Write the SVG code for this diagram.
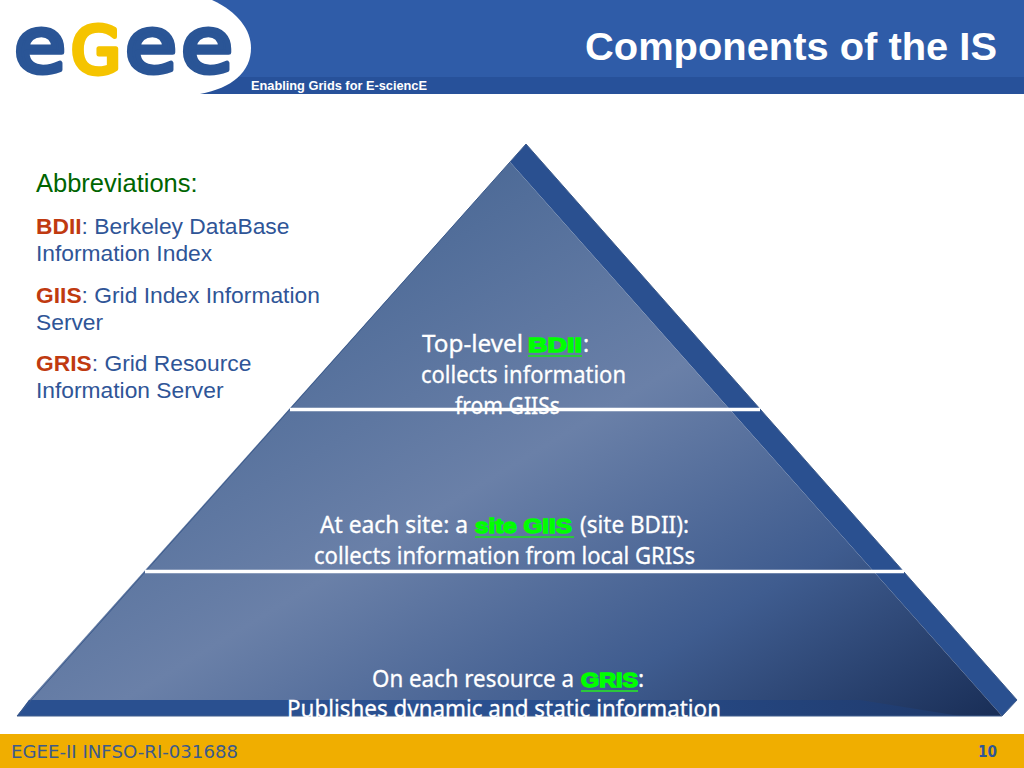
<svg xmlns="http://www.w3.org/2000/svg" width="1024" height="768" viewBox="0 0 1024 768">
<defs>
<linearGradient id="face" gradientUnits="userSpaceOnUse" x1="390" y1="150" x2="800" y2="830">
<stop offset="0" stop-color="#466593"/><stop offset="0.42" stop-color="#6a80a8"/><stop offset="0.72" stop-color="#3f5c8f"/><stop offset="1" stop-color="#1a2f58"/>
</linearGradient>
<linearGradient id="strip" gradientUnits="userSpaceOnUse" x1="520" y1="700" x2="960" y2="700">
<stop offset="0" stop-color="#2a5090"/><stop offset="1" stop-color="#1f3a6c"/>
</linearGradient>
</defs>
<style>
.a{font-family:"Liberation Sans",Arial,sans-serif}
.abbr{font-size:22.8px;fill:#2f5597}
.red{font-weight:bold;fill:#c03a10}
.p{font-family:"Noto Sans",Lato,sans-serif;font-size:23px;fill:#fff;stroke:#fff;stroke-width:.3px}
.hl{font-family:"Liberation Sans",Arial,sans-serif;font-weight:bold;fill:#00ff00;stroke:#00ff00;stroke-width:1.4px}
.ul{stroke:#2cc83c;stroke-width:2}
.logo{font-family:"DejaVu Sans",sans-serif;font-size:77px;fill:#2a5596;stroke:#2a5596;stroke-width:5px;stroke-linejoin:round}
</style>
<rect width="1024" height="768" fill="#fff"/>
<g id="header">
<rect width="1024" height="94" fill="#2f5ca8"/>
<rect y="77" width="1024" height="17" fill="#27519a"/>
<path d="M0 0H212C238 12 251 30 251 48C251 72 232 88 200 94H0Z" fill="#fff"/>
<text x="251" y="90" class="a" font-size="12" font-weight="bold" fill="#fff" textLength="176" lengthAdjust="spacingAndGlyphs">Enabling Grids for E-sciencE</text>
<text x="997" y="60" class="a" font-size="36" font-weight="bold" fill="#fff" text-anchor="end" textLength="412" lengthAdjust="spacingAndGlyphs" style="font-size:38px">Components of the IS</text>
</g>
<g id="logo">
<text class="logo" x="14" y="72" textLength="52" lengthAdjust="spacingAndGlyphs">e</text>
<text class="logo" x="71" y="72.500" style="font-size:64px;fill:#f5c400;stroke:#f5c400" textLength="50" lengthAdjust="spacingAndGlyphs">G</text>
<text class="logo" x="125" y="72" textLength="52" lengthAdjust="spacingAndGlyphs">e</text>
<text class="logo" x="181" y="72" textLength="52" lengthAdjust="spacingAndGlyphs">e</text>
</g>
<g id="pyramid">
<path d="M526 144L1017 700L1002 716L510 162Z" fill="#2a5090"/>
<path d="M510 162L29 700L17 716H1002Z" fill="url(#face)"/>
<path d="M17 716L29 700H860L960 716Z" fill="url(#strip)"/>
<path d="M526 144L17 716H1002L1017 700Z" fill="none" stroke="#3e5c8c" stroke-width="1"/>
</g>
<g id="connectors">
<line x1="290" y1="409.500" x2="760" y2="409.500" stroke="#fff" stroke-width="3.500"/>
<line x1="145" y1="571.500" x2="904" y2="571.500" stroke="#fff" stroke-width="3.500"/>
</g>
<g id="abbreviations">
<text x="36" y="192" fill="#006400" class="a" style="font-size:25.500px">Abbreviations:</text>
<text x="36" y="234" class="a abbr"><tspan class="red">BDII</tspan>: Berkeley DataBase</text>
<text x="36" y="261" class="a abbr">Information Index</text>
<text x="36" y="303" class="a abbr"><tspan class="red">GIIS</tspan>: Grid Index Information</text>
<text x="36" y="330" class="a abbr">Server</text>
<text x="36" y="371" class="a abbr"><tspan class="red">GRIS</tspan>: Grid Resource</text>
<text x="36" y="398" class="a abbr">Information Server</text>
</g>
<g id="top-level">
<text class="p" x="422" y="352" textLength="101" lengthAdjust="spacingAndGlyphs">Top-level</text>
<text class="hl" x="528" y="352" font-size="20" textLength="54" lengthAdjust="spacingAndGlyphs">BDII</text>
<line class="ul" x1="528" y1="356" x2="582" y2="356"/>
<text class="p" x="583" y="352">:</text>
<text class="p" x="421" y="383" textLength="205" lengthAdjust="spacingAndGlyphs">collects information</text>
<text class="p" x="455" y="414" textLength="105" lengthAdjust="spacingAndGlyphs">from GIISs</text>
</g>
<g id="site">
<text class="p" x="320" y="533" textLength="148" lengthAdjust="spacingAndGlyphs">At each site: a</text>
<text class="hl" x="475" y="533" font-size="20" textLength="97" lengthAdjust="spacingAndGlyphs">site GIIS</text>
<line class="ul" x1="475" y1="537" x2="574" y2="537"/>
<text class="p" x="580" y="533" textLength="109" lengthAdjust="spacingAndGlyphs">(site BDII):</text>
<text class="p" x="314" y="564" textLength="381" lengthAdjust="spacingAndGlyphs">collects information from local GRISs</text>
</g>
<g id="resource">
<text class="p" x="372" y="687" textLength="202" lengthAdjust="spacingAndGlyphs">On each resource a</text>
<text class="hl" x="581" y="687" font-size="20" textLength="57" lengthAdjust="spacingAndGlyphs">GRIS</text>
<line class="ul" x1="581" y1="691" x2="638" y2="691"/>
<text class="p" x="638" y="687">:</text>
<text class="p" x="287" y="717" textLength="434" lengthAdjust="spacingAndGlyphs">Publishes dynamic and static information</text>
</g>
<g id="footer">
<rect y="734" width="1024" height="34" fill="#f0ae00"/>
<text x="11" y="758" font-family="DejaVu Sans, sans-serif" font-size="17" fill="#3c5a8c" textLength="227" lengthAdjust="spacingAndGlyphs">EGEE-II INFSO-RI-031688</text>
<text x="978" y="757" font-family="DejaVu Sans, sans-serif" font-size="16" font-weight="bold" fill="#2f5597" textLength="19" lengthAdjust="spacingAndGlyphs">10</text>
</g>
</svg>
